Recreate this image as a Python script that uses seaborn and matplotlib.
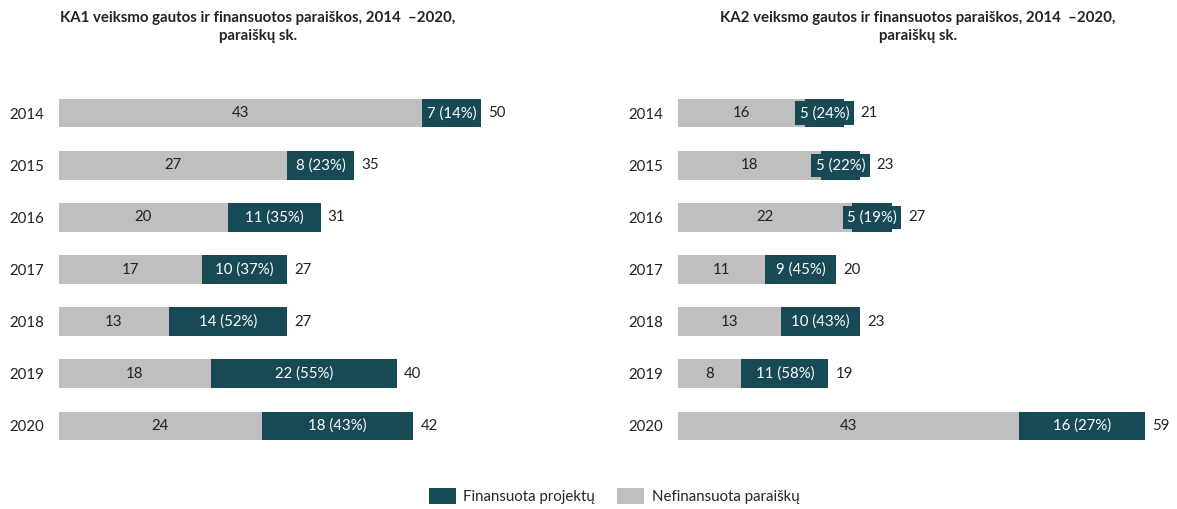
import matplotlib
matplotlib.use("Agg")
import matplotlib.pyplot as plt
import seaborn as sns
import pandas as pd
from matplotlib.patches import Patch

years = ["2014", "2015", "2016", "2017", "2018", "2019", "2020"]
ka1_unfunded = [43, 27, 20, 17, 13, 18, 24]
ka1_funded = [7, 8, 11, 10, 14, 22, 18]
ka1_pct = [14, 23, 35, 37, 52, 55, 43]
ka2_unfunded = [16, 18, 22, 11, 13, 8, 43]
ka2_funded = [5, 5, 5, 9, 10, 11, 16]
ka2_pct = [24, 22, 19, 45, 43, 58, 27]

titles = ["KA1 veiksmo gautos ir finansuotos paraiškos, 2014  –2020,\nparaiškų sk.",
          "KA2 veiksmo gautos ir finansuotos paraiškos, 2014  –2020,\nparaiškų sk."]
legend_labels = ["Finansuota projektų", "Nefinansuota paraiškų"]

DARK = "#174A55"
GRAY = "#BFBFBF"

sns.set_theme(style="white")
plt.rcParams["font.family"] = ["Lato", "DejaVu Sans"]

fig = plt.figure(figsize=(11.77, 5.09), dpi=100)
W, H = 1177, 509
top_px, bot_px = 87, 452
ax1 = fig.add_axes([59 / W, 1 - bot_px / H, 440 / W, (bot_px - top_px) / H])
ax2 = fig.add_axes([678 / W, 1 - bot_px / H, 490 / W, (bot_px - top_px) / H])

panels = [(ax1, ka1_unfunded, ka1_funded, ka1_pct, 440 / 8.44),
          (ax2, ka2_unfunded, ka2_funded, ka2_pct, 490 / 7.92)]

fs = 10.8
for ax, unf, fun, pct, xmax in panels:
    total = [u + f for u, f in zip(unf, fun)]
    df = pd.DataFrame({"year": years, "unfunded": unf, "funded": fun, "total": total})
    sns.barplot(data=df, x="total", y="year", color=DARK, orient="h", width=0.55,
                saturation=1, linewidth=0, ax=ax)
    sns.barplot(data=df, x="unfunded", y="year", color=GRAY, orient="h", width=0.55,
                saturation=1, linewidth=0, ax=ax)
    ax.set_xlim(0, xmax)
    ax.set_ylim(6.5, -0.5)
    ax.set_xlabel("")
    ax.set_ylabel("")
    ax.set_xticks([])
    for s in ax.spines.values():
        s.set_visible(False)
    ax.tick_params(axis="y", length=0, pad=11, labelsize=fs, labelcolor="#222222")

fig.canvas.draw()
renderer = fig.canvas.get_renderer()

for ax, unf, fun, pct, xmax in panels:
    total = [u + f for u, f in zip(unf, fun)]
    dark_texts = []
    for i in range(len(years)):
        ax.text(unf[i] / 2, i, str(unf[i]), ha="center", va="center",
                fontsize=fs, color="#222222")
        t = ax.text(unf[i] + fun[i] / 2, i, f"{fun[i]} ({pct[i]}%)", ha="center",
                    va="center", fontsize=fs, color="white",
                    bbox=dict(boxstyle="square,pad=0.3", facecolor=DARK, edgecolor="none"))
        dark_texts.append(t)
    fig.canvas.draw()
    inv = ax.transData.inverted()
    for i, tx in enumerate(dark_texts):
        bb = tx.get_bbox_patch().get_window_extent(renderer)
        end_px = ax.transData.transform((total[i], i))[0]
        x_px = max(end_px, bb.x1) + 7
        xd = inv.transform((x_px, 0))[0]
        ax.text(xd, i, str(total[i]), ha="left", va="center", fontsize=fs,
                color="#222222")

for xc, title in zip([258, 918], titles):
    fig.text(xc / W, 1 - 11 / H, title, ha="center", va="top", fontsize=10.8,
             fontweight="bold", color="#222222", linespacing=1.4)

handles = [Patch(facecolor=DARK, edgecolor="none"), Patch(facecolor=GRAY, edgecolor="none")]
fig.legend(handles, legend_labels, loc="center", bbox_to_anchor=(614 / W, 1 - 496 / H),
           ncol=2, frameon=False, fontsize=fs, handlelength=1.8, handleheight=1.3,
           columnspacing=1.5, handletextpad=0.5)

fig.savefig("out.png", dpi=100, facecolor="white")
